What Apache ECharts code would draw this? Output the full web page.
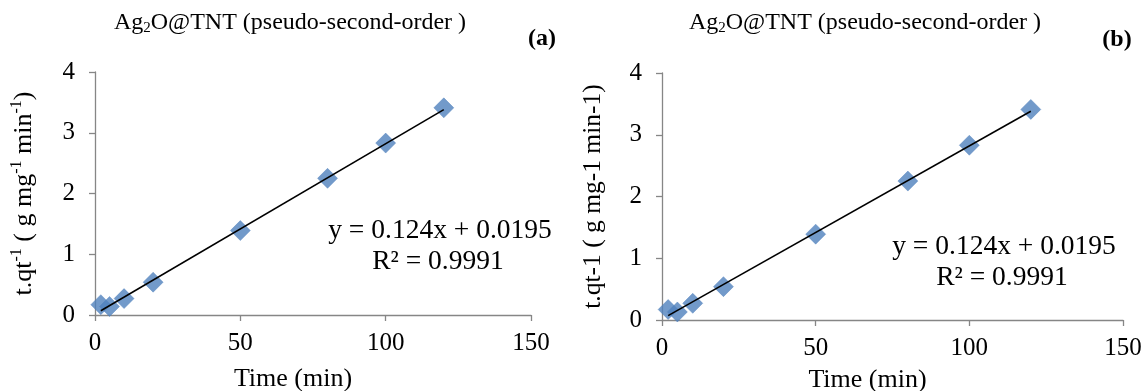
<!DOCTYPE html>
<html>
<head>
<meta charset="utf-8">
<script src="https://cdn.jsdelivr.net/npm/echarts@6/dist/echarts.min.js"></script>
<style>
html,body{margin:0;padding:0;background:#fff;}
#c{width:1142px;height:391px;}
</style>
</head>
<body>
<div id="c"></div>
<script>
// Data
var timeMin = [2, 5, 10, 20, 50, 80, 100, 120];
var tqA = [0.17, 0.14, 0.27, 0.54, 1.39, 2.25, 2.83, 3.41];
var tqB = [0.17, 0.13, 0.27, 0.54, 1.39, 2.25, 2.83, 3.41];
var trendX = [2, 120];
var trendYA = [0.07, 3.38];
var trendYB = [0.07, 3.38];
var xTicks = [0, 50, 100, 150];
var yTicks = [0, 1, 2, 3, 4];
var eqText = ['y = 0.124x + 0.0195', 'R² = 0.9991'];

function pairs(xs, ys) { return xs.map(function (x, i) { return [x, ys[i]]; }); }

var FONT = '"Liberation Serif", "Times New Roman", serif';
var AXIS_COLOR = '#868686';

function xAxisCfg(gi, gap, shift) {
  return {
    gridIndex: gi, type: 'value', min: xTicks[0], max: xTicks[xTicks.length - 1],
    interval: xTicks[1] - xTicks[0],
    name: 'Time (min)', nameLocation: 'middle', nameGap: gap,
    nameTextStyle: { fontFamily: FONT, fontSize: 26, color: '#000', padding: [0, shift * 2, 0, 0] },
    axisLine: { show: true, onZero: false, lineStyle: { color: AXIS_COLOR, width: 1.3 } },
    axisTick: { show: true, inside: false, length: 6, lineStyle: { color: AXIS_COLOR, width: 1.3 } },
    axisLabel: { fontFamily: FONT, fontSize: 25, color: '#000', margin: 16 },
    splitLine: { show: false }
  };
}
function yAxisCfg(gi, name, rich) {
  return {
    gridIndex: gi, type: 'value', min: yTicks[0], max: yTicks[yTicks.length - 1],
    interval: yTicks[1] - yTicks[0],
    name: name, nameLocation: 'middle', nameGap: 56, nameRotate: 90,
    nameTextStyle: { fontFamily: FONT, fontSize: 25.5, color: '#000', rich: rich },
    axisLine: { show: true, onZero: false, lineStyle: { color: AXIS_COLOR, width: 1.3 } },
    axisTick: { show: true, inside: false, length: 6, lineStyle: { color: AXIS_COLOR, width: 1.3 } },
    axisLabel: { fontFamily: FONT, fontSize: 25, color: '#000', margin: 20 },
    splitLine: { show: false }
  };
}

var supRich = {
  n: { fontFamily: FONT, fontSize: 26, color: '#000', lineHeight: 30 },
  s: { fontFamily: FONT, fontSize: 16, color: '#000', lineHeight: 18, verticalAlign: 'top' }
};

var titleRich = {
  sub: { fontFamily: FONT, fontSize: 15, fontWeight: 'normal', color: '#000', lineHeight: 15, verticalAlign: 'bottom' },
  t: { fontFamily: FONT, fontSize: 24, fontWeight: 'normal', color: '#000', lineHeight: 27 }
};

function markerSeries(gi, ys) {
  return {
    type: 'scatter', xAxisIndex: gi, yAxisIndex: gi,
    data: pairs(timeMin, ys),
    symbol: 'diamond', symbolSize: [20, 20],
    itemStyle: { color: '#4f81bd', borderColor: '#4a7ebb', borderWidth: 0.5 },
    z: 2, silent: true
  };
}
function trendSeries(gi, ys) {
  return {
    type: 'line', xAxisIndex: gi, yAxisIndex: gi,
    data: pairs(trendX, ys), showSymbol: false, symbol: 'none',
    lineStyle: { color: '#000', width: 1.6 }, z: 3, silent: true
  };
}

function eq(x, y, t) {
  return { type: 'text', x: x, y: y, style: { text: t, font: '27.5px ' + FONT, fill: '#000', align: 'center', verticalAlign: 'middle' } };
}

var chart = echarts.init(document.getElementById('c'), null, { renderer: 'canvas' });
chart.setOption({
  backgroundColor: '#fff',
  animation: false,
  title: [
    { text: '{t|Ag}{sub|2}{t|O@TNT (pseudo-second-order )}', left: 285, top: 4, textAlign: 'center',
      textStyle: { fontWeight: 'normal', rich: titleRich } },
    { text: '{t|Ag}{sub|2}{t|O@TNT (pseudo-second-order )}', left: 860, top: 4, textAlign: 'center',
      textStyle: { fontWeight: 'normal', rich: titleRich } },
    { text: '(a)', left: 537, top: 22, textAlign: 'center',
      textStyle: { fontFamily: FONT, fontSize: 24, fontWeight: 'bold', color: '#000' } },
    { text: '(b)', left: 1112, top: 23, textAlign: 'center',
      textStyle: { fontFamily: FONT, fontSize: 24, fontWeight: 'bold', color: '#000' } }
  ],
  grid: [
    { left: 95, top: 72, width: 436, height: 243, outerBoundsMode: 'none', containLabel: false },
    { left: 662, top: 73, width: 461, height: 247, outerBoundsMode: 'none', containLabel: false }
  ],
  xAxis: [xAxisCfg(0, 51, 20), xAxisCfg(1, 47, 25)],
  yAxis: [
    yAxisCfg(0, '{n|t.qt}{s|-1}{n| ( g mg}{s|-1}{n| min}{s|-1}{n|)}', supRich),
    yAxisCfg(1, 't.qt-1 ( g mg-1 min-1)', null)
  ],
  series: [
    markerSeries(0, tqA), trendSeries(0, trendYA),
    markerSeries(1, tqB), trendSeries(1, trendYB)
  ],
  graphic: [
    eq(440, 231, eqText[0]), eq(438, 262, eqText[1]),
    eq(1004, 247, eqText[0]), eq(1002, 278, eqText[1])
  ]
});
</script>
</body>
</html>
